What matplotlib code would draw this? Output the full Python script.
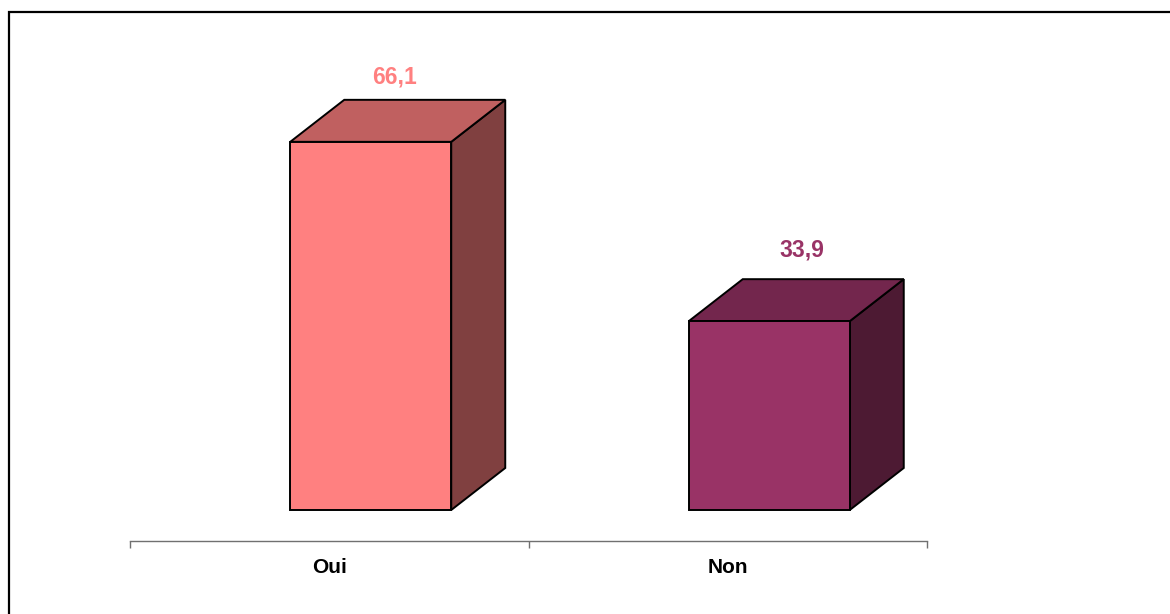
import matplotlib
matplotlib.use("Agg")
import matplotlib.pyplot as plt
import matplotlib.patches as patches

categories = ["Oui", "Non"]
values = [66.1, 33.9]
value_labels = ["66,1", "33,9"]

front_colors = ["#FF8080", "#993366"]
top_colors = ["#C06060", "#73264D"]
side_colors = ["#804040", "#4D1A33"]
label_colors = ["#FF8080", "#993366"]

W, H = 1170, 614
fig = plt.figure(figsize=(W / 100, H / 100), dpi=100)
fig.patch.set_facecolor("white")

# axes placed so that the category axis line sits at y=541 px
ax_left, ax_right = 130, 927
ax_bottom, ax_top = 541, 12
ax = fig.add_axes([ax_left / W, (H - ax_bottom) / H,
                   (ax_right - ax_left) / W, (ax_bottom - ax_top) / H])

px_per_x = (ax_right - ax_left) / 2.0
px_per_y = 5.57
y_low = -31 / px_per_y
ax.set_xlim(-0.5, 1.5)
ax.set_ylim(y_low, y_low + (ax_bottom - ax_top) / px_per_y)

# 3d look: depth offset in pixels converted to data units
dx = 54 / px_per_x
dy = 42 / px_per_y
bar_off = -39 / px_per_x
bar_w = 161 / px_per_x

for i, v in enumerate(values):
    x0 = i + bar_off
    x1 = x0 + bar_w
    lw = 1.4
    side = patches.Polygon([(x1, 0), (x1 + dx, dy), (x1 + dx, v + dy), (x1, v)],
                           closed=True, facecolor=side_colors[i], edgecolor="black",
                           linewidth=lw, joinstyle="miter")
    top = patches.Polygon([(x0, v), (x0 + dx, v + dy), (x1 + dx, v + dy), (x1, v)],
                          closed=True, facecolor=top_colors[i], edgecolor="black",
                          linewidth=lw, joinstyle="miter")
    front = patches.Rectangle((x0, 0), bar_w, v, facecolor=front_colors[i],
                              edgecolor="black", linewidth=lw, joinstyle="miter")
    ax.add_patch(side)
    ax.add_patch(top)
    ax.add_patch(front)
    ax.text(x0 + bar_w / 2 + dx * 0.5 - (3 - 9 * i) / px_per_x,
            v + dy + (23 + 6 * i) / px_per_y,
            value_labels[i], ha="center", va="center", fontsize=16.5,
            fontweight="bold", color=label_colors[i], family="Liberation Sans")

# category axis
for s in ["left", "right", "top"]:
    ax.spines[s].set_visible(False)
ax.spines["bottom"].set_position(("data", y_low))
ax.spines["bottom"].set_color("#707070")
ax.spines["bottom"].set_linewidth(1)
ax.set_yticks([])
ax.set_xticks([-0.5, 0.5, 1.5])
ax.set_xticklabels([])
ax.set_xticks([0, 1], minor=True)
ax.set_xticklabels(categories, minor=True, fontsize=15, fontweight="bold",
                   family="Liberation Sans")
ax.tick_params(axis="x", which="major", direction="out", length=5, color="#707070", width=1)
ax.tick_params(axis="x", which="minor", length=0, pad=12)
ax.patch.set_alpha(0)

# outer frame
fig.patches.append(patches.Rectangle((9 / W, -0.1), 1.2, (H - 12) / H + 0.1,
                                     transform=fig.transFigure, fill=False,
                                     edgecolor="black", linewidth=1.6))

fig.savefig("out.png", dpi=100)
